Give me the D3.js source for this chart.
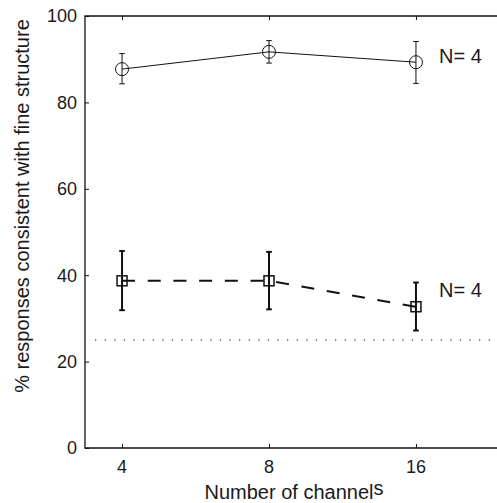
<!DOCTYPE html>
<html>
<head>
<meta charset="utf-8">
<script src="https://cdn.jsdelivr.net/npm/d3@7"></script>
<style>
  body { margin: 0; background: #fff; overflow: hidden; }
  svg { display: block; }
  text { font-family: "Liberation Sans", Arial, sans-serif; fill: #1a1a1a; }
</style>
</head>
<body>
<script>
// channels on the x axis (log2 spaced)
const channels = [4, 8, 16];
// fine-structure condition (circles, solid line)
const fineMean = [87.7, 91.7, 89.3];
const fineLo = [84.3, 89.1, 84.4];
const fineHi = [91.3, 94.3, 94.1];
// envelope condition (squares, dashed line)
const envMean = [38.7, 38.7, 32.7];
const envLo = [31.9, 32.1, 27.2];
const envHi = [45.6, 45.4, 38.3];
const chance = 25;
const yTicks = [0, 20, 40, 60, 80, 100];
const nLabels = ["N= 4", "N= 4"];

const width = 497, height = 503;
const margin = {left: 85, top: 16, right: -7, bottom: 55};

const svg = d3.select("body").append("svg")
    .attr("width", width).attr("height", height);

const x = d3.scaleLog().base(2)
    .domain([Math.pow(2, 1.748), Math.pow(2, 4.599)])
    .range([margin.left, width - margin.right]);
const y = d3.scaleLinear().domain([0, 100])
    .range([height - margin.bottom, margin.top]);

// box: top, left and bottom (the right side falls outside the picture)
svg.append("path")
    .attr("d", "M" + (width + 10) + "," + y(100) + "H" + x.range()[0] +
               "V" + y(0) + "H" + (width + 10))
    .attr("fill", "none").attr("stroke", "#111").attr("stroke-width", 1.3);

// y axis, ticks pointing inward
const yAxis = svg.append("g")
    .attr("transform", "translate(" + margin.left + ",0)")
    .call(d3.axisRight(y).tickValues(yTicks).tickSize(4).tickFormat(""));
yAxis.select(".domain").remove();
yAxis.selectAll("line").attr("stroke", "#111");
svg.selectAll(".ylab").data(yTicks).join("text")
    .attr("class", "ylab")
    .attr("x", margin.left - 8).attr("y", d => y(d))
    .attr("dy", "0.35em").attr("text-anchor", "end")
    .attr("font-size", 18).text(d => d);

// x axis, ticks inward at bottom and top
const xAxis = svg.append("g")
    .attr("transform", "translate(0," + y(0) + ")")
    .call(d3.axisTop(x).tickValues(channels).tickSize(4).tickFormat(""));
xAxis.select(".domain").remove();
xAxis.selectAll("line").attr("stroke", "#111");
const xTop = svg.append("g")
    .attr("transform", "translate(0," + y(100) + ")")
    .call(d3.axisBottom(x).tickValues(channels).tickSize(4).tickFormat(""));
xTop.select(".domain").remove();
xTop.selectAll("line").attr("stroke", "#111");
svg.selectAll(".xlab").data(channels).join("text")
    .attr("class", "xlab")
    .attr("x", d => x(d)).attr("y", y(0) + 25)
    .attr("text-anchor", "middle")
    .attr("font-size", 18).text(d => d);

// axis titles
const xTitle = svg.append("text")
    .attr("x", 294).attr("y", 499)
    .attr("text-anchor", "middle").attr("font-size", 20);
xTitle.append("tspan").text("Number of channel");
xTitle.append("tspan").attr("dy", -4).text("s");

svg.append("text")
    .attr("transform", "translate(29,206) rotate(-90)")
    .attr("text-anchor", "middle").attr("font-size", 20)
    .text("% responses consistent with fine structure");

// chance level
svg.append("line")
    .attr("x1", 95).attr("x2", width)
    .attr("y1", y(chance)).attr("y2", y(chance))
    .attr("stroke", "#111").attr("stroke-width", 1.2)
    .attr("stroke-dasharray", "1.3,8.3");

const line = d3.line().x(d => x(d[0])).y(d => y(d[1]));

// fine structure series
svg.append("path")
    .datum(channels.map((c, i) => [c, fineMean[i]]))
    .attr("d", line).attr("fill", "none")
    .attr("stroke", "#111").attr("stroke-width", 1);
channels.forEach((c, i) => {
  const g = svg.append("g").attr("stroke", "#111").attr("stroke-width", 1).attr("fill", "none");
  g.append("line").attr("x1", x(c)).attr("x2", x(c))
      .attr("y1", y(fineLo[i])).attr("y2", y(fineHi[i]));
  g.append("line").attr("x1", x(c) - 2.8).attr("x2", x(c) + 2.8)
      .attr("y1", y(fineLo[i])).attr("y2", y(fineLo[i]));
  g.append("line").attr("x1", x(c) - 2.8).attr("x2", x(c) + 2.8)
      .attr("y1", y(fineHi[i])).attr("y2", y(fineHi[i]));
  g.append("circle").attr("cx", x(c)).attr("cy", y(fineMean[i])).attr("r", 6.5);
});

// envelope series
svg.append("path")
    .datum(channels.map((c, i) => [c, envMean[i]]))
    .attr("d", line).attr("fill", "none")
    .attr("stroke", "#111").attr("stroke-width", 2)
    .attr("stroke-dasharray", "13,12.7");
channels.forEach((c, i) => {
  const g = svg.append("g").attr("stroke", "#111").attr("fill", "none");
  g.append("line").attr("x1", x(c)).attr("x2", x(c))
      .attr("y1", y(envLo[i])).attr("y2", y(envHi[i])).attr("stroke-width", 2);
  g.append("line").attr("x1", x(c) - 2.8).attr("x2", x(c) + 2.8)
      .attr("y1", y(envLo[i])).attr("y2", y(envLo[i])).attr("stroke-width", 2);
  g.append("line").attr("x1", x(c) - 2.8).attr("x2", x(c) + 2.8)
      .attr("y1", y(envHi[i])).attr("y2", y(envHi[i])).attr("stroke-width", 2);
  g.append("rect").attr("x", x(c) - 5).attr("y", y(envMean[i]) - 5)
      .attr("width", 10).attr("height", 10).attr("stroke-width", 1.5);
});

// N labels
const nPos = [fineMean[2], envMean[2] + 2.5];
svg.selectAll(".nlab").data(nLabels).join("text")
    .attr("class", "nlab")
    .attr("x", 439).attr("y", (d, i) => y(nPos[i]) + 1)
    .attr("font-size", 20).text(d => d);
</script>
</body>
</html>
